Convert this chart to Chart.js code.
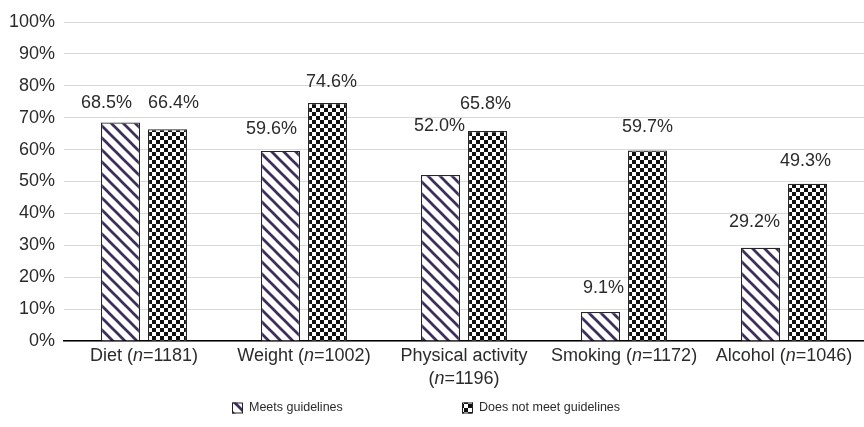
<!DOCTYPE html>
<html>
<head>
<meta charset="utf-8">
<script src="https://cdn.jsdelivr.net/npm/chart.js@4/dist/chart.umd.min.js"></script>
<style>
  html, body { margin: 0; padding: 0; background: #ffffff; }
  #wrap { width: 864px; height: 427px; }
</style>
</head>
<body>
<div id="wrap"><canvas id="chart" width="864" height="427"></canvas></div>
<script>
// Behaviour categories and their sample sizes
const categoryNames = ['Diet', 'Weight', 'Physical activity', 'Smoking', 'Alcohol'];
const sampleSizes = [1181, 1002, 1196, 1172, 1046];

// Percentage of respondents in each group
const meetsGuidelines = [68.5, 59.6, 52.0, 9.1, 29.2];
const doesNotMeetGuidelines = [66.4, 74.6, 65.8, 59.7, 49.3];

const seriesNames = ['Meets guidelines', 'Does not meet guidelines'];
const yTickValues = [0, 10, 20, 30, 40, 50, 60, 70, 80, 90, 100];

// Hand placement of value labels (px): sideways nudge and extra lift,
// so neighbouring labels don't collide
const labelNudgeX = [
  [-14, -9, -1, 3, -6],
  [6, 4, -2, 0, -2]
];
const labelLift = [
  [-3.5, -1, 26, 1, 3],
  [3, -2, 4, 1, 0]
];

const FONT = '"Liberation Sans", Arial, Helvetica, sans-serif';
const TEXT = '#2b2b2b';

function stripePattern() {
  const s = 12;
  const c = document.createElement('canvas');
  c.width = s; c.height = s;
  const g = c.getContext('2d');
  g.fillStyle = '#ffffff';
  g.fillRect(0, 0, s, s);
  g.strokeStyle = '#3d2e5e';
  g.lineWidth = 2.7;
  for (const off of [-s, 0, s]) {
    g.beginPath();
    g.moveTo(off - 1, -1);
    g.lineTo(off + s + 1, s + 1);
    g.stroke();
  }
  return g.createPattern(c, 'repeat');
}

function checkerPattern() {
  const s = 8, h = 4;
  const c = document.createElement('canvas');
  c.width = s; c.height = s;
  const g = c.getContext('2d');
  g.fillStyle = '#ffffff';
  g.fillRect(0, 0, s, s);
  g.fillStyle = '#111111';
  g.fillRect(0, 0, h, h);
  g.fillRect(h, h, h, h);
  return g.createPattern(c, 'repeat');
}

const fills = [stripePattern(), checkerPattern()];

// Category labels with an italic "n"
function labelParts(i) {
  return [
    { t: categoryNames[i] + ' (', italic: false },
    { t: 'n', italic: true },
    { t: '=' + sampleSizes[i] + ')', italic: false }
  ];
}

function fontFor(italic, size) {
  return (italic ? 'italic ' : '') + size + 'px ' + FONT;
}

function drawParts(ctx, parts, cx, y, size) {
  let w = 0;
  for (const p of parts) { ctx.font = fontFor(p.italic, size); w += ctx.measureText(p.t).width; }
  let x = cx - w / 2;
  for (const p of parts) {
    ctx.font = fontFor(p.italic, size);
    ctx.fillText(p.t, x, y);
    x += ctx.measureText(p.t).width;
  }
  return w;
}

const overlay = {
  id: 'overlay',
  afterDatasetsDraw(chart) {
    const ctx = chart.ctx;
    ctx.save();
    ctx.fillStyle = TEXT;
    ctx.textBaseline = 'middle';
    ctx.textAlign = 'left';

    // value labels above bars
    chart.data.datasets.forEach((ds, di) => {
      const meta = chart.getDatasetMeta(di);
      meta.data.forEach((bar, i) => {
        const txt = ds.data[i].toFixed(1) + '%';
        ctx.font = '18px ' + FONT;
        const w = ctx.measureText(txt).width;
        ctx.fillText(txt, bar.x + labelNudgeX[di][i] - w / 2, bar.y - 23 - labelLift[di][i]);
      });
    });

    // category labels under the axis
    const xs = chart.scales.x;
    const size = 18;
    const slot = xs.width / categoryNames.length;
    for (let i = 0; i < categoryNames.length; i++) {
      const cx = xs.getPixelForValue(i);
      const parts = labelParts(i);
      let full = 0;
      for (const p of parts) { ctx.font = fontFor(p.italic, size); full += ctx.measureText(p.t).width; }
      const y0 = chart.chartArea.bottom + 15;
      if (full > slot - 8) {
        drawParts(ctx, [{ t: categoryNames[i], italic: false }], cx, y0, size);
        drawParts(ctx, [{ t: '(', italic: false }, parts[1], parts[2]], cx, y0 + 23, size);
      } else {
        drawParts(ctx, parts, cx, y0, size);
      }
    }

    // legend
    const legendX = [232, 462];
    const ly = 408;
    ctx.font = '12.5px ' + FONT;
    seriesNames.forEach((name, k) => {
      const x = legendX[k];
      ctx.fillStyle = fills[k];
      ctx.fillRect(x, ly - 5.5, 11, 11);
      ctx.strokeStyle = '#222222';
      ctx.lineWidth = 1;
      ctx.strokeRect(x + 0.5, ly - 5, 10, 10);
      ctx.fillStyle = TEXT;
      ctx.fillText(name, x + 17, ly);
    });
    ctx.restore();
  }
};

new Chart(document.getElementById('chart'), {
  type: 'bar',
  data: {
    labels: categoryNames,
    datasets: [
      {
        label: seriesNames[0],
        data: meetsGuidelines,
        backgroundColor: fills[0],
        borderColor: '#262626',
        borderWidth: 1.2
      },
      {
        label: seriesNames[1],
        data: doesNotMeetGuidelines,
        backgroundColor: fills[1],
        borderColor: '#262626',
        borderWidth: 1.2
      }
    ]
  },
  options: {
    responsive: false,
    devicePixelRatio: 1,
    animation: false,
    events: [],
    layout: { padding: { top: 22, right: 0, bottom: 86, left: 0 } },
    datasets: {
      bar: { categoryPercentage: 0.5875, barPercentage: 0.83 }
    },
    plugins: {
      legend: { display: false },
      tooltip: { enabled: false }
    },
    scales: {
      x: {
        grid: { display: false, drawTicks: false },
        border: { display: true, color: '#000000', width: 1.5 },
        ticks: { display: false }
      },
      y: {
        min: 0,
        max: 100,
        afterFit(scale) { scale.width = 64; },
        afterBuildTicks(scale) { scale.ticks = yTickValues.map(v => ({ value: v })); },
        grid: { color: '#d9d9d9', lineWidth: 1, drawTicks: false },
        border: { display: false },
        ticks: {
          padding: 9,
          color: TEXT,
          font: { family: FONT, size: 18 },
          callback: v => v + '%'
        }
      }
    }
  },
  plugins: [overlay]
});
</script>
</body>
</html>
